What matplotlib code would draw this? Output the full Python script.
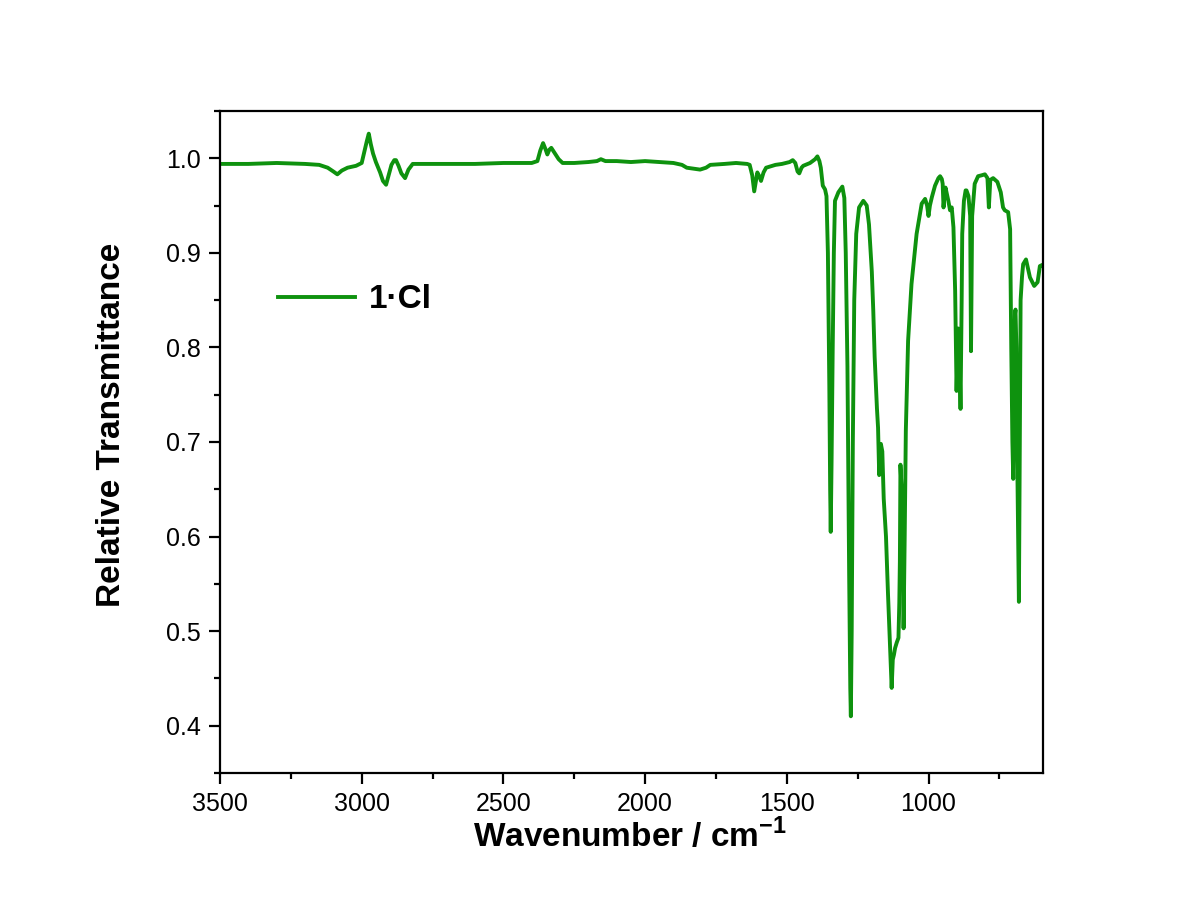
import matplotlib
matplotlib.use("Agg")
import matplotlib.pyplot as plt
from matplotlib.ticker import MultipleLocator

# ---- spectrum (wavenumber / cm-1, relative transmittance)
wavenumber = [
    3500, 3400, 3300, 3200, 3150, 3120, 3100, 3086, 3070, 3050, 3020, 3000,
    2990, 2982, 2975, 2968, 2960, 2950, 2935, 2925, 2914, 2905, 2895, 2885,
    2879, 2870, 2860, 2847, 2835, 2820, 2700, 2600, 2500, 2400, 2380, 2370,
    2360, 2352, 2345, 2338, 2331, 2320, 2305, 2291, 2250, 2200, 2170, 2156,
    2140, 2100, 2050, 2000, 1947, 1900, 1870, 1853, 1830, 1806, 1785, 1770,
    1720, 1679, 1640, 1631, 1622, 1615, 1608, 1604, 1597, 1591, 1582, 1573,
    1540, 1517, 1490, 1479, 1470, 1462, 1456, 1448, 1442, 1418, 1400, 1392,
    1385, 1380, 1373, 1365, 1360, 1355, 1350, 1347, 1345, 1342, 1338, 1334,
    1330, 1318, 1304, 1297, 1292, 1286, 1280, 1276, 1274, 1271, 1267, 1262,
    1255, 1245, 1230, 1218, 1210, 1200, 1195, 1190, 1182, 1178, 1174, 1168,
    1163, 1158, 1150, 1143, 1136, 1130, 1126, 1122, 1118, 1112, 1106, 1103,
    1101, 1099, 1095, 1090, 1088, 1084, 1080, 1072, 1060, 1042, 1024, 1012,
    1005, 1000, 995, 988, 977, 965, 959, 953, 950, 947, 943, 940,
    935, 930, 924, 918, 912, 906, 901, 895, 891, 887, 883, 881,
    875, 869, 866, 859, 853, 850, 846, 837, 825, 812, 801, 792,
    787, 782, 772, 757, 745, 737, 731, 719, 712, 708, 704, 701,
    698, 695, 693, 690, 686, 681, 678, 675, 670, 666, 656, 642,
    627, 615, 607, 600,
]
transmittance = [
    0.994, 0.994, 0.995, 0.994, 0.993, 0.990, 0.986, 0.983, 0.987, 0.990, 0.992, 0.995,
    1.008, 1.018, 1.026, 1.015, 1.005, 0.996, 0.985, 0.976, 0.972, 0.982, 0.993, 0.998,
    0.998, 0.992, 0.984, 0.979, 0.988, 0.994, 0.994, 0.994, 0.995, 0.995, 0.997, 1.008,
    1.016, 1.010, 1.004, 1.009, 1.011, 1.006, 0.999, 0.995, 0.995, 0.996, 0.997, 0.999,
    0.997, 0.997, 0.996, 0.997, 0.996, 0.995, 0.993, 0.990, 0.989, 0.988, 0.990, 0.993,
    0.994, 0.995, 0.994, 0.993, 0.982, 0.965, 0.978, 0.985, 0.981, 0.976, 0.985, 0.990,
    0.993, 0.994, 0.996, 0.998, 0.995, 0.986, 0.984, 0.990, 0.992, 0.995, 0.999, 1.002,
    0.997, 0.990, 0.971, 0.967, 0.960, 0.900, 0.760, 0.650, 0.605, 0.680, 0.800, 0.900,
    0.955, 0.964, 0.970, 0.958, 0.900, 0.780, 0.560, 0.440, 0.410, 0.500, 0.700, 0.850,
    0.920, 0.948, 0.955, 0.950, 0.930, 0.880, 0.840, 0.790, 0.736, 0.715, 0.665, 0.698,
    0.690, 0.640, 0.600, 0.540, 0.486, 0.440, 0.470, 0.475, 0.482, 0.488, 0.493, 0.530,
    0.574, 0.676, 0.650, 0.623, 0.503, 0.600, 0.712, 0.807, 0.867, 0.920, 0.952, 0.957,
    0.950, 0.939, 0.950, 0.959, 0.971, 0.979, 0.981, 0.978, 0.973, 0.948, 0.962, 0.969,
    0.962, 0.955, 0.945, 0.948, 0.927, 0.860, 0.754, 0.820, 0.800, 0.735, 0.850, 0.920,
    0.955, 0.966, 0.966, 0.960, 0.939, 0.796, 0.939, 0.973, 0.981, 0.982, 0.983, 0.979,
    0.948, 0.977, 0.979, 0.975, 0.964, 0.948, 0.945, 0.943, 0.925, 0.800, 0.700, 0.661,
    0.750, 0.835, 0.840, 0.800, 0.660, 0.531, 0.700, 0.850, 0.875, 0.888, 0.893, 0.874,
    0.865, 0.869, 0.886, 0.887,
]
series_label = "1·Cl"

plt.rcParams["font.family"] = ["Liberation Sans", "DejaVu Sans"]
plt.rcParams["mathtext.fontset"] = "custom"
plt.rcParams["mathtext.rm"] = "Liberation Sans"
plt.rcParams["mathtext.bf"] = "Liberation Sans:bold"

fig = plt.figure(figsize=(11.95, 9.17), dpi=100)
ax = fig.add_axes([0.1841, 0.1570, 0.6887, 0.7220])

ax.plot(wavenumber, transmittance, color="#0e920e", lw=2.8, label=series_label)

ax.set_xlim(3500, 596)
ax.set_ylim(0.35, 1.05)
ax.xaxis.set_major_locator(MultipleLocator(500))
ax.xaxis.set_minor_locator(MultipleLocator(250))
ax.yaxis.set_major_locator(MultipleLocator(0.1))
ax.yaxis.set_minor_locator(MultipleLocator(0.05))
ax.yaxis.set_major_formatter(lambda v, p: f"{v:.1f}")

for s in ax.spines.values():
    s.set_linewidth(1.6)
ax.tick_params(which="major", direction="out", length=8, width=1.6,
               labelsize=18, pad=6)
ax.tick_params(which="minor", direction="out", length=4.5, width=1.6)

ax.set_xlabel(r"Wavenumber / cm$^{\mathbf{-1}}$", fontsize=24, fontweight="bold")
ax.set_ylabel("Relative Transmittance", fontsize=24, fontweight="bold")
ax.xaxis.set_label_coords(0.498, -0.068)
ax.yaxis.set_label_coords(-0.113, 0.526)

ax.legend(loc="center left", bbox_to_anchor=(0.071, 0.7145), frameon=False,
          prop={"size": 24, "weight": "bold"}, handlelength=2.3,
          handletextpad=0.4, borderpad=0, borderaxespad=0)

fig.savefig("out.png", dpi=100)
